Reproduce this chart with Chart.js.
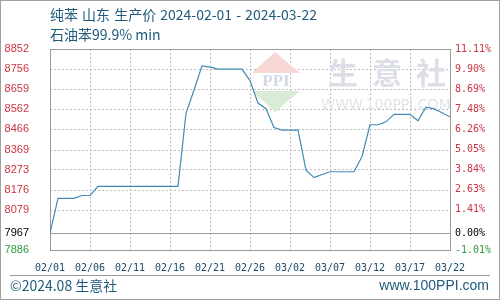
<!DOCTYPE html>
<html>
<head>
<meta charset="utf-8">
<script src="https://cdn.jsdelivr.net/npm/chart.js@4"></script>
<style>
html,body{margin:0;padding:0;background:#fff;}
#wrap{width:500px;height:300px;position:relative;}
</style>
</head>
<body>
<div id="wrap"><canvas id="c" width="500" height="300"></canvas></div>
<script>
// ---- data ----
const xLabels = ['02/01','02/06','02/11','02/16','02/21','02/26','03/02','03/07','03/12','03/17','03/22'];
// daily price, index = days since 2024-02-01
const prices = [
  7967, 8134, 8134, 8134, 8148, 8148, 8192, 8192, 8192, 8192,
  8192, 8192, 8192, 8192, 8192, 8192, 8192, 8543, 8655, 8771,
  8765, 8755, 8755, 8755, 8755, 8700, 8592, 8565, 8475, 8462,
  8462, 8462, 8270, 8234, 8249, 8262, 8262, 8262, 8262, 8335,
  8488, 8488, 8502, 8538, 8538, 8538, 8507, 8572, 8564, 8546,
  8526
];
const leftTicks = [8852, 8756, 8659, 8562, 8466, 8369, 8273, 8176, 8079, 7967, 7886];
const rightTickLabels = ['11.11%','9.90%','8.69%','7.48%','6.26%','5.05%','3.84%','2.63%','1.41%','0.00%','-1.01%'];
const titleParts = ['纯苯','山东','生产价','2024-02-01','-','2024-03-22'];
const baseValue = 7967;
const yMin = 7886, yMax = 8852;

const points = prices.map((v, i) => ({x: i, y: v}));

function tickColor(v){
  if (v === baseValue) return '#000000';
  if (v === yMin) return '#2e9a3a';
  return '#cc3340';
}

const deco = {
  id: 'deco',
  beforeDraw(chart){
    const ctx = chart.ctx;
    ctx.save();
    ctx.fillStyle = '#fff';
    ctx.fillRect(0,0,500,300);
    ctx.restore();
  },
  beforeDatasetsDraw(chart){
    const ctx = chart.ctx;
    const a = chart.chartArea;
    const ys = chart.scales.y;
    const xs = chart.scales.x;
    ctx.save();
    // dashed grid from the scales' ticks
    ctx.strokeStyle = '#bdbdbd';
    ctx.lineWidth = 1;
    ctx.setLineDash([2, 2]);
    xs.ticks.forEach(t => {
      const px = Math.round(xs.getPixelForValue(t.value)) + 0.5;
      ctx.beginPath(); ctx.moveTo(px, a.top); ctx.lineTo(px, a.bottom); ctx.stroke();
    });
    ys.ticks.forEach(t => {
      if (t.value === baseValue || t.value === yMin || t.value === yMax) return;
      const py = Math.round(ys.getPixelForValue(t.value)) + 0.5;
      ctx.beginPath(); ctx.moveTo(a.left, py); ctx.lineTo(a.right, py); ctx.stroke();
    });
    ctx.setLineDash([]);
    // watermark logo
    ctx.fillStyle = '#f8d8d4';
    ctx.beginPath(); ctx.moveTo(275,52); ctx.lineTo(300,73); ctx.lineTo(252,73); ctx.closePath(); ctx.fill();
    ctx.fillStyle = '#d8ecd6';
    ctx.beginPath(); ctx.moveTo(252,91); ctx.lineTo(300,91); ctx.lineTo(275,112); ctx.closePath(); ctx.fill();
    ctx.fillStyle = '#d3d9e6';
    ctx.font = 'bold 17px "Liberation Serif", serif';
    ctx.textBaseline = 'middle';
    ctx.textAlign = 'center';
    ctx.fillText('PPI', 276, 82);
    ctx.fillStyle = '#dcdfe8';
    ctx.font = 'bold 30px "Noto Sans CJK SC", sans-serif';
    const wm = ['生','意','社'];
    wm.forEach((ch,i)=>{ ctx.fillText(ch, 343 + i*44, 73); });
    ctx.font = '14px "DejaVu Sans", sans-serif';
    ctx.fillStyle = '#e0e3ea';
    ctx.fillText('WWW.100PPI.COM', 386, 105);
    // base line (0%)
    const yb = Math.round(ys.getPixelForValue(baseValue)) + 0.5;
    ctx.strokeStyle = '#9a9a9a';
    ctx.beginPath(); ctx.moveTo(a.left, yb); ctx.lineTo(a.right, yb); ctx.stroke();
    // frame
    ctx.strokeRect(Math.round(a.left)+0.5, Math.round(a.top)+0.5, Math.round(a.right-a.left), Math.round(a.bottom-a.top));
    ctx.restore();
  },
  afterDraw(chart){
    const ctx = chart.ctx;
    ctx.save();
    // outer border
    ctx.strokeStyle = '#a0a0a0';
    ctx.lineWidth = 1;
    ctx.strokeRect(0.5,0.5,499,299);
    // titles
    ctx.fillStyle = '#1f5a7c';
    ctx.textBaseline = 'middle';
    ctx.textAlign = 'left';
    ctx.font = '14px "Noto Sans CJK SC", sans-serif';
    const widths = titleParts.map(p => ctx.measureText(p).width);
    const totalW = widths.reduce((s, w) => s + w, 0);
    const gap = Math.max(3, (317 - 50 - totalW) / (titleParts.length - 1));
    let tx = 50;
    titleParts.forEach((p, i) => { ctx.fillText(p, tx, 15); tx += widths[i] + gap; });
    ctx.fillText('石油苯99.9% min', 50, 35);
    // footer
    ctx.strokeStyle = '#9a9a9a';
    ctx.beginPath(); ctx.moveTo(10, 275.5); ctx.lineTo(490, 275.5); ctx.stroke();
    ctx.fillStyle = '#1f5a7c';
    ctx.font = '14px "Noto Sans CJK SC", sans-serif';
    ctx.fillText('©2024.08 生意社', 10, 286);
    ctx.textAlign = 'right';
    ctx.font = '14px "Liberation Sans", sans-serif';
    ctx.fillText('www.100PPI.com', 489, 286);
    ctx.restore();
  }
};

new Chart(document.getElementById('c'), {
  type: 'line',
  data: {
    datasets: [{
      data: points,
      borderColor: '#3f8bb5',
      borderWidth: 1.2,
      pointRadius: 0,
      tension: 0,
      fill: false
    }]
  },
  options: {
    responsive: false,
    animation: false,
    events: [],
    layout: {padding: {top: 49, left: 0, right: 0, bottom: 0}},
    plugins: {legend: {display: false}, tooltip: {enabled: false}},
    scales: {
      x: {
        type: 'linear', min: 0, max: 50, position: 'bottom',
        afterFit(s){ s.height = 50; },
        grid: {display: false, drawTicks: false},
        border: {display: false},
        ticks: {
          stepSize: 5, padding: 12, autoSkip: false, maxRotation: 0,
          color: '#1b4a6b',
          font: {family: '"DejaVu Sans Mono", monospace', size: 10},
          callback: (v) => xLabels[Math.round(v/5)]
        }
      },
      y: {
        type: 'linear', position: 'left', min: yMin, max: yMax,
        afterFit(s){ s.width = 50; },
        afterBuildTicks(s){ s.ticks = leftTicks.map(v => ({value: v})); },
        grid: {display: false, drawTicks: false},
        border: {display: false},
        ticks: {
          padding: 21,
          color: (c) => tickColor(c.tick.value),
          font: {family: '"Liberation Sans", sans-serif', size: 11},
          callback: (v) => String(v)
        }
      },
      y2: {
        type: 'linear', position: 'right', min: yMin, max: yMax,
        afterFit(s){ s.width = 50; },
        afterBuildTicks(s){ s.ticks = leftTicks.map(v => ({value: v})); },
        grid: {display: false, drawTicks: false},
        border: {display: false},
        ticks: {
          padding: 5,
          color: (c) => tickColor(c.tick.value),
          font: {family: '"DejaVu Sans Mono", monospace', size: 10},
          callback: (v, i) => rightTickLabels[i]
        }
      }
    }
  },
  plugins: [deco]
});
</script>
</body>
</html>
